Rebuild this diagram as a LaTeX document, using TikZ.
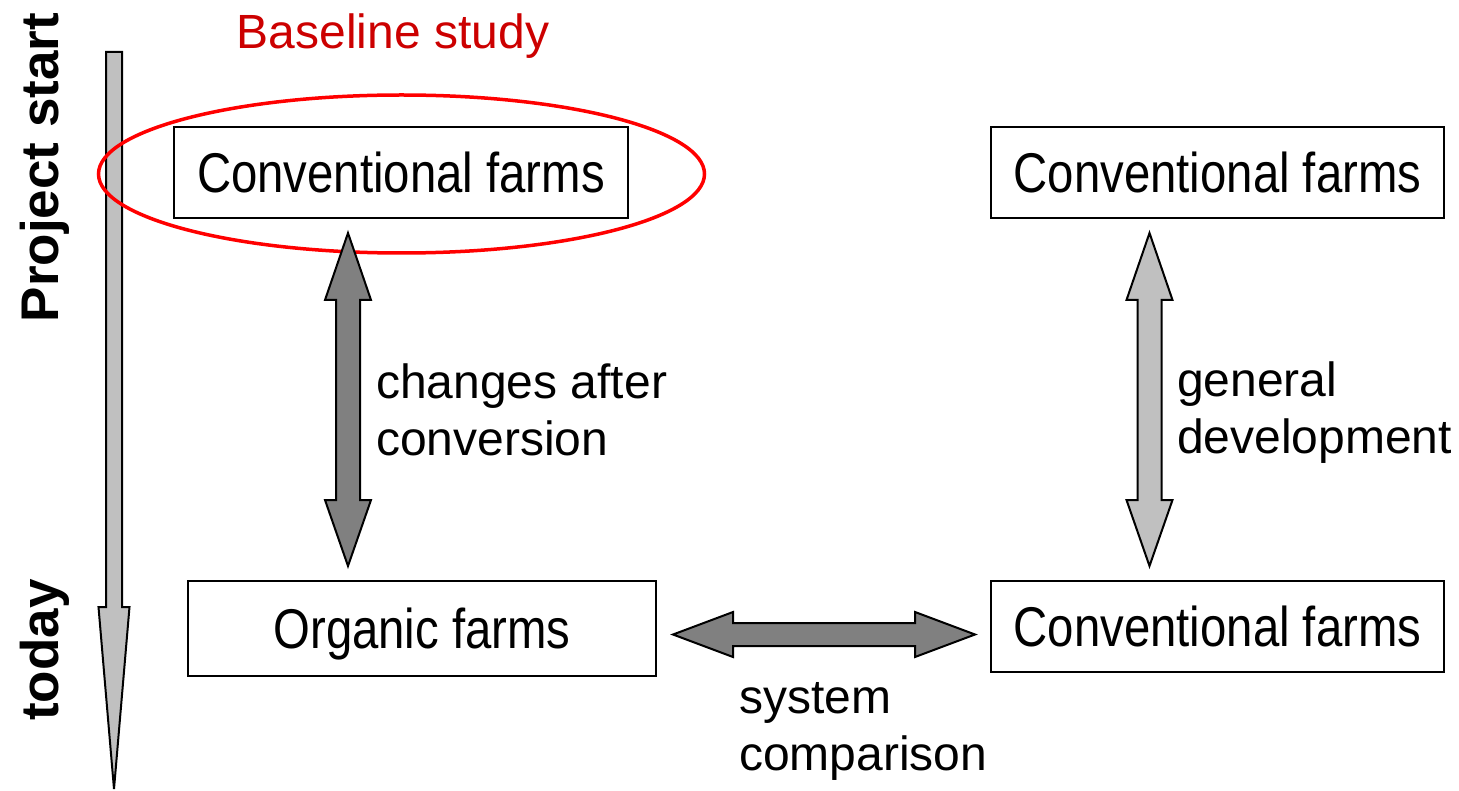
\documentclass[tikz,border=0pt]{standalone}
\usepackage{fontspec}
\setmainfont{Liberation Sans}
\newfontfamily\narrowfont[FakeStretch=0.845]{Liberation Sans}
\usetikzlibrary{calc}
\definecolor{darkfill}{HTML}{808080}
\definecolor{lightfill}{HTML}{C0C0C0}
\definecolor{studyred}{HTML}{CC0000}
\tikzset{
  farmbox/.style={draw=black, line width=2pt, fill=white, inner sep=0pt,
    font=\narrowfont\fontsize{56}{64}\selectfont, text height=40pt, text depth=0pt},
  label/.style={font=\fontsize{48}{57}\selectfont, align=left, anchor=base west, inner sep=0pt},
  phase/.style={font=\bfseries\fontsize{53}{60}\selectfont, rotate=90, anchor=base, inner sep=0pt},
  blockarrow/.style={draw=black, line width=2pt, line join=miter}
}
% vertical double block arrow between two tip coordinates (#1 top, #2 bottom)
\newcommand{\vdouble}[3]{%
  \path[blockarrow, fill=#3] (#1) -- ($(#1)+(23,67)$) -- ($(#1)+(12,67)$)
    -- ($(#2)+(12,-66)$) -- ($(#2)+(23,-66)$) -- (#2) -- ($(#2)+(-23,-66)$)
    -- ($(#2)+(-12,-66)$) -- ($(#1)+(-12,67)$) -- ($(#1)+(-23,67)$) -- cycle;}
% horizontal double block arrow between two tip coordinates (#1 left, #2 right)
\newcommand{\hdouble}[3]{%
  \path[blockarrow, fill=#3] (#1) -- ($(#1)+(60,-22.5)$) -- ($(#1)+(60,-11.5)$)
    -- ($(#2)+(-60,-11.5)$) -- ($(#2)+(-60,-22.5)$) -- (#2) -- ($(#2)+(-60,22.5)$)
    -- ($(#2)+(-60,11.5)$) -- ($(#1)+(60,11.5)$) -- ($(#1)+(60,22.5)$) -- cycle;}
\begin{document}
\begin{tikzpicture}[x=1pt, y=-1pt]
\useasboundingbox (0,0) rectangle (1459,791);

% time axis
\coordinate (axistop) at (114,52);
\coordinate (axistip) at (114,789);
\path[blockarrow, fill=lightfill] ($(axistop)+(-8,0)$) -- ($(axistop)+(8,0)$)
  -- ($(axistop)+(8,555)$) -- ($(axistop)+(15.5,555)$) -- (axistip)
  -- ($(axistop)+(-15.5,555)$) -- ($(axistop)+(-8,555)$) -- cycle;
\node[phase] (start) at (58,167.5) {Project start};
\node[phase] (today) at (58,650) {today};

% farm groups
\node[farmbox, minimum width=454pt, minimum height=91pt] (convA) at (401,172.5) {Conventional farms};
\node[farmbox, minimum width=453pt, minimum height=91pt] (convB) at (1217.5,172.5) {Conventional farms};
\node[farmbox, minimum width=468pt, minimum height=95pt] (organic) at (422,628.5) {Organic farms};
\node[farmbox, minimum width=453pt, minimum height=91pt] (convC) at (1217.5,626.5) {Conventional farms};

% baseline study highlight
\draw[red, line width=3.5pt] (401.5,174) ellipse [x radius=303, y radius=79];
\node[font=\fontsize{48}{57}\selectfont, text=studyred, anchor=base, inner sep=0pt] (baseline) at (393,49) {Baseline study};

% comparisons
\coordinate (convA-end) at (348,233);
\coordinate (organic-end) at (348,566);
\vdouble{convA-end}{organic-end}{darkfill}
\coordinate (convB-end) at (1149.5,233);
\coordinate (convC-end) at (1149.5,566);
\vdouble{convB-end}{convC-end}{lightfill}
\coordinate (organic-side) at (673,634.5);
\coordinate (convC-side) at (975,634.5);
\hdouble{organic-side}{convC-side}{darkfill}

% labels, anchored at the baseline of their last line
\node[label] (conv) at (376,455) {changes after\\conversion};
\node[label] (gen) at (1177,453) {general\\development};
\node[label] (sys) at (739,770) {system\\comparison};
\end{tikzpicture}
\end{document}
